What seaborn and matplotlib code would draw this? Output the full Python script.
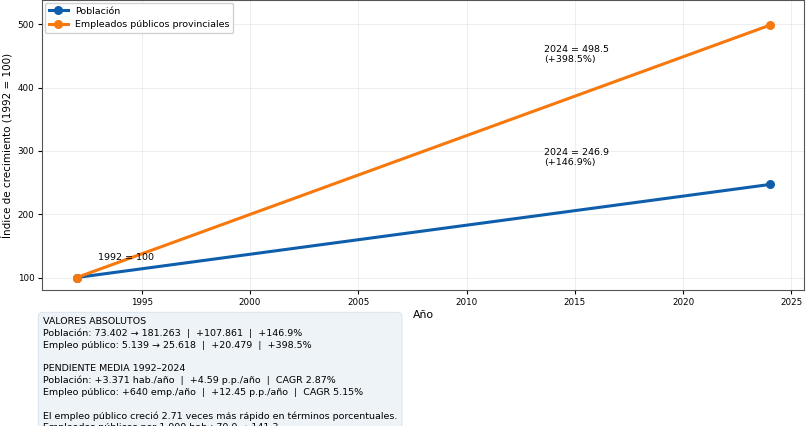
import matplotlib
matplotlib.use("Agg")
import matplotlib.pyplot as plt
import seaborn as sns
import pandas as pd

years = [1992, 2024]
poblacion = [73402, 181263]
empleo = [5139, 25618]
series_names = ["Población", "Empleados públicos provinciales"]
colors = ["#0f5eab", "#f7780c"]

idx_pob = [v / poblacion[0] * 100 for v in poblacion]
idx_emp = [v / empleo[0] * 100 for v in empleo]

df = pd.DataFrame({
    "Año": years * 2,
    "indice": idx_pob + idx_emp,
    "serie": [series_names[0]] * 2 + [series_names[1]] * 2,
})

plt.rcParams["font.family"] = ["DejaVu Sans"]
plt.rcParams["font.size"] = 6.8

fig = plt.figure(figsize=(8.1, 4.26), dpi=100)
ax = fig.add_axes([0.052, 0.319, 0.941, 0.681])

sns.lineplot(data=df, x="Año", y="indice", hue="serie", palette=colors,
             marker="o", markersize=6.5, markeredgewidth=0, linewidth=2.2, ax=ax)

ax.set_xlim(1990.4, 2025.6)
ax.set_ylim(80.1, 538.4)
ax.set_xticks([1995, 2000, 2005, 2010, 2015, 2020, 2025])
ax.set_yticks([100, 200, 300, 400, 500])
ax.grid(True, alpha=0.25, linewidth=0.6)
ax.set_xlabel("Año", fontsize=7.8, labelpad=2)
ax.set_ylabel("Índice de crecimiento (1992 = 100)", fontsize=7.5, labelpad=4)
ax.tick_params(labelsize=6.3, pad=2.5, length=3)
for s in ax.spines.values():
    s.set_color("#555555")

handles, labels = ax.get_legend_handles_labels()
ax.legend(handles, labels, loc="upper left", fontsize=6.8, framealpha=0.9,
          borderaxespad=0.3)

ax.text(1993.0, 131, "1992 = 100", fontsize=6.8, va="center", ha="left")
ax.text(2013.6, idx_emp[1] - 46,
        f"2024 = {idx_emp[1]:.1f}\n(+{idx_emp[1] - 100:.1f}%)",
        fontsize=6.8, va="center", ha="left")
ax.text(2013.6, idx_pob[1] + 43,
        f"2024 = {idx_pob[1]:.1f}\n(+{idx_pob[1] - 100:.1f}%)",
        fontsize=6.8, va="center", ha="left")

info = (
    "VALORES ABSOLUTOS\n"
    "Población: 73.402 → 181.263  |  +107.861  |  +146.9%\n"
    "Empleo público: 5.139 → 25.618  |  +20.479  |  +398.5%\n"
    "\n"
    "PENDIENTE MEDIA 1992–2024\n"
    "Población: +3.371 hab./año  |  +4.59 p.p./año  |  CAGR 2.87%\n"
    "Empleo público: +640 emp./año  |  +12.45 p.p./año  |  CAGR 5.15%\n"
    "\n"
    "El empleo público creció 2.71 veces más rápido en términos porcentuales.\n"
    "Empleados públicos por 1.000 hab.: 70.0 → 141.3"
)
fig.text(43 / 810, 1 - 317 / 426, info, fontsize=6.8, va="top", ha="left",
         linespacing=1.37,
         bbox=dict(boxstyle="round,pad=0.5", facecolor="#eef3f8",
                   edgecolor="#d8e0e8", linewidth=0.6))

fig.savefig("out.png", dpi=100)
